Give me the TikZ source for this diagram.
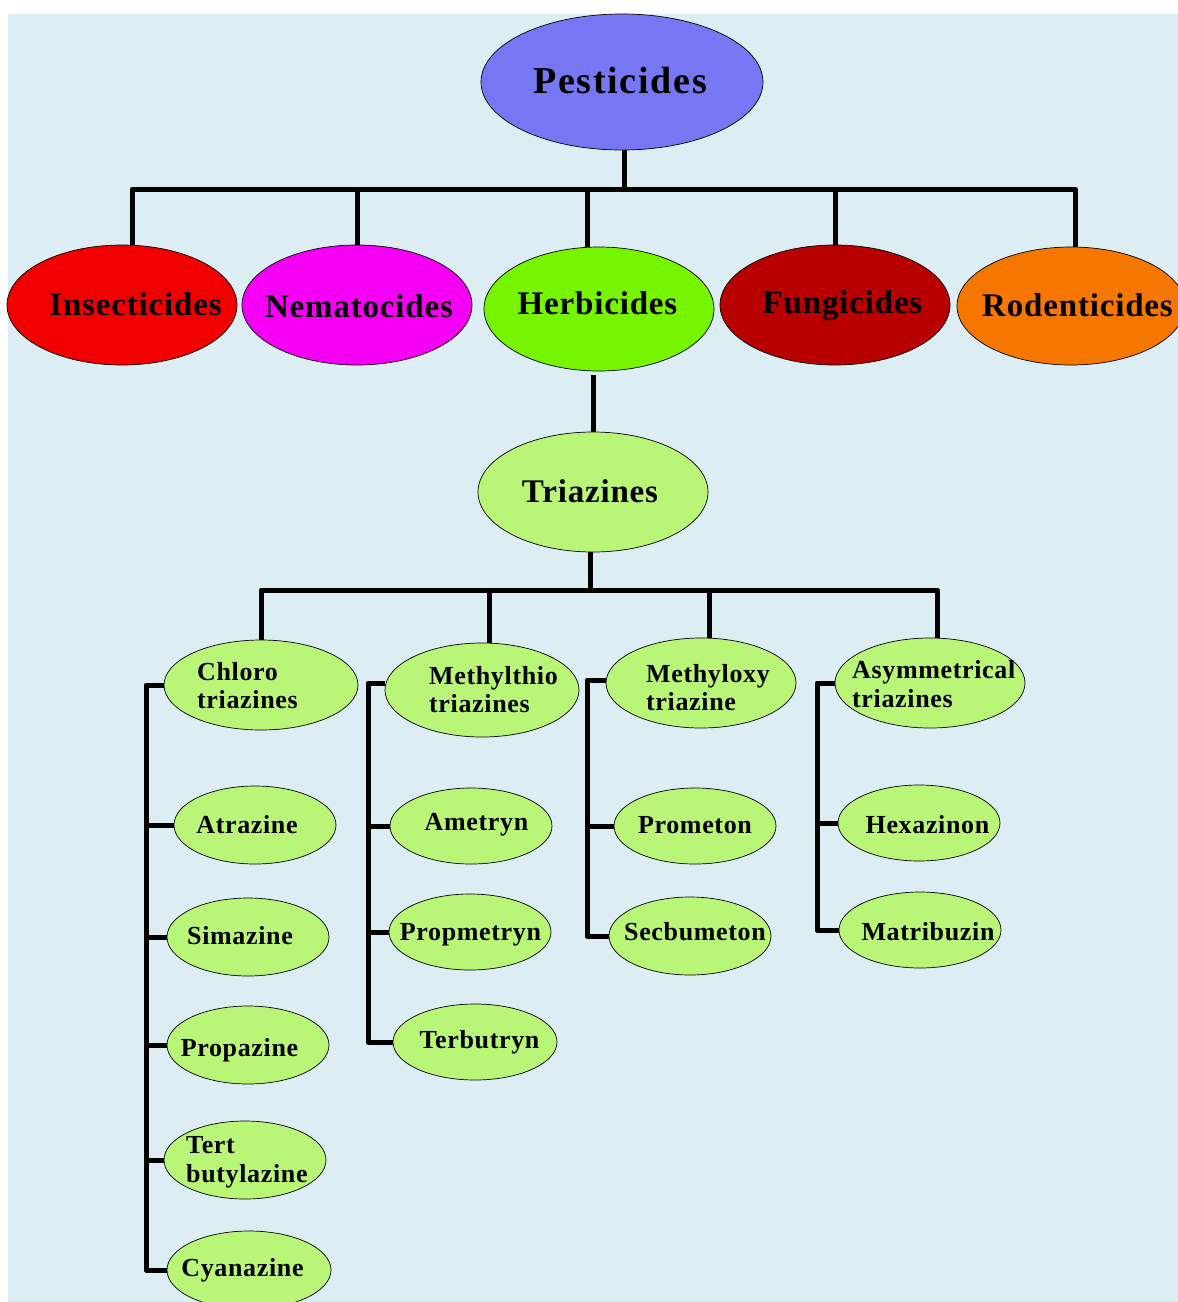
\documentclass[tikz,border=0pt]{standalone}
\usepackage{fontspec}
\setmainfont{Liberation Serif}
\newfontfamily\wideA{Liberation Serif}[LetterSpace=4.5]
\newfontfamily\wideB{Liberation Serif}[LetterSpace=2.5]
\usetikzlibrary{shapes.geometric}
\definecolor{bgc}{HTML}{DCEEF4}
\definecolor{pestc}{HTML}{7777F4}
\definecolor{insc}{HTML}{F20000}
\definecolor{nemc}{HTML}{F500F5}
\definecolor{herbc}{HTML}{77F500}
\definecolor{func}{HTML}{B80000}
\definecolor{rodc}{HTML}{F57700}
\definecolor{lgc}{HTML}{B9F577}
\begin{document}
\begin{tikzpicture}[x=1pt,y=-1pt,
  oval/.style={ellipse,draw=black,line width=0.7pt,inner sep=0pt},
  leafoval/.style={oval,fill=lgc},
  conn/.style={line width=5pt,line cap=butt,line join=round},
  big/.style={font=\wideA\bfseries\fontsize{38}{40}\selectfont,inner sep=0pt,anchor=base},
  cat/.style={font=\wideB\bfseries\fontsize{33}{36}\selectfont,inner sep=0pt,anchor=base},
  leaf/.style={font=\wideB\bfseries\fontsize{26}{29}\selectfont,inner sep=0pt,anchor=base},
  leafw/.style={leaf,anchor=base west}]
\useasboundingbox (0,0) rectangle (1178,1302);
\fill[bgc] (8,14) rectangle (1178,1302);

% ellipses
\node[oval,fill=pestc,minimum width=282pt,minimum height=136pt] (pest) at (622,82) {};
\node[oval,fill=insc,minimum width=230pt,minimum height=120pt] (ins) at (122,305) {};
\node[oval,fill=nemc,minimum width=230pt,minimum height=120pt] (nem) at (357,305) {};
\node[oval,fill=herbc,minimum width=230pt,minimum height=124pt] (herb) at (599,309) {};
\node[oval,fill=func,minimum width=230pt,minimum height=120pt] (fun) at (835,305) {};
\node[oval,fill=rodc,minimum width=228pt,minimum height=118pt] (rod) at (1071,306) {};
\node[leafoval,minimum width=230pt,minimum height=120pt] (tri) at (593,492) {};
\node[leafoval,minimum width=194pt,minimum height=90pt] (chl) at (261,685) {};
\node[leafoval,minimum width=194pt,minimum height=94pt] (mth) at (482,690) {};
\node[leafoval,minimum width=190pt,minimum height=90pt] (mox) at (701,683) {};
\node[leafoval,minimum width=190pt,minimum height=90pt] (asy) at (930,683) {};
\node[leafoval,minimum width=162pt,minimum height=78pt] (atr) at (255,825) {};
\node[leafoval,minimum width=162pt,minimum height=78pt] (sim) at (248,937) {};
\node[leafoval,minimum width=162pt,minimum height=78pt] (prz) at (248,1045) {};
\node[leafoval,minimum width=162pt,minimum height=78pt] (tba) at (245,1160) {};
\node[leafoval,minimum width=164pt,minimum height=78pt] (cya) at (249,1270) {};
\node[leafoval,minimum width=162pt,minimum height=76pt] (ame) at (471,826) {};
\node[leafoval,minimum width=162pt,minimum height=76pt] (prm) at (470,932) {};
\node[leafoval,minimum width=164pt,minimum height=76pt] (teb) at (475,1042) {};
\node[leafoval,minimum width=162pt,minimum height=76pt] (prn) at (695,826) {};
\node[leafoval,minimum width=162pt,minimum height=78pt] (sec) at (690,936) {};
\node[leafoval,minimum width=162pt,minimum height=76pt] (hex) at (919,823) {};
\node[leafoval,minimum width=162pt,minimum height=76pt] (mat) at (920,930) {};

% top tree
\coordinate (barA) at (132,189);
\coordinate (insT) at ([xshift=10pt]ins.north);
\coordinate (herbT) at ([xshift=-12pt]herb.north);
\coordinate (rodT) at ([xshift=4pt]rod.north);
\coordinate (pestB) at ([xshift=2pt]pest.south);
\coordinate (herbB) at ([yshift=-4pt]herb.south);
\draw[conn] (insT) -- (insT |- barA) -- (rodT |- barA) -- (rodT);
\draw[conn] (pestB) -- (pestB |- barA);
\draw[conn] (nem.north |- barA) -- (nem.north);
\draw[conn] (herbT |- barA) -- (herbT);
\draw[conn] (fun.north |- barA) -- (fun.north);
\draw[conn] (tri.north |- herbB) -- (tri.north);

% triazine tree
\coordinate (barB) at (260,590);
\coordinate (mthT) at ([xshift=7pt]mth.north);
\coordinate (moxT) at ([xshift=8pt]mox.north);
\coordinate (asyT) at ([xshift=7pt]asy.north);
\coordinate (triB) at ([xshift=-3pt]tri.south);
\draw[conn] (chl.north) -- (chl.north |- barB) -- (asyT |- barB) -- (asyT);
\draw[conn] (triB) -- (triB |- barB);
\draw[conn] (mthT |- barB) -- (mthT);
\draw[conn] (moxT |- barB) -- (moxT);

% brackets
\coordinate (cb) at (146,0);
\coordinate (mb) at (368,0);
\coordinate (ob) at (587,0);
\coordinate (ab) at (817,0);
\coordinate (mthW) at ([yshift=7pt]mth.west);
\coordinate (moxW) at ([yshift=3pt]mox.west);
\draw[conn] (chl.west) -- (chl.west -| cb) -- (cya.west -| cb) -- (cya.west);
\foreach \n in {atr,sim,prz,tba} \draw[conn] (\n.west -| cb) -- (\n.west);
\draw[conn] (mthW) -- (mthW -| mb) -- (teb.west -| mb) -- (teb.west);
\foreach \n in {ame,prm} \draw[conn] (\n.west -| mb) -- (\n.west);
\draw[conn] (moxW) -- (moxW -| ob) -- (sec.west -| ob) -- (sec.west);
\draw[conn] (prn.west -| ob) -- (prn.west);
\draw[conn] (asy.west) -- (asy.west -| ab) -- (mat.west -| ab) -- (mat.west);
\draw[conn] (hex.west -| ab) -- (hex.west);

% labels
\node[big] (tpest) at (620,93) {Pesticides};
\node[cat] (tins) at (135.5,315) {Insecticides};
\node[cat] (tnem) at (359,317) {Nematocides};
\node[cat] (therb) at (597.5,314) {Herbicides};
\node[cat] (tfun) at (842.5,313) {Fungicides};
\node[cat] (trod) at (1077.5,316) {Rodenticides};
\node[cat] (ttri) at (590,502) {Triazines};
\node[leafw] (tchl1) at (197,680) {Chloro};
\node[leafw] (tchl2) at (197,708) {triazines};
\node[leafw] (tmth1) at (429,684) {Methylthio};
\node[leafw] (tmth2) at (429,712) {triazines};
\node[leafw] (tmox1) at (646,682) {Methyloxy};
\node[leafw] (tmox2) at (646,710) {triazine};
\node[leafw] (tasy1) at (852,678) {Asymmetrical};
\node[leafw] (tasy2) at (852,707) {triazines};
\node[leaf] (tatr) at (247,833) {Atrazine};
\node[leaf] (tsim) at (240,944) {Simazine};
\node[leaf] (tprz) at (239.5,1056) {Propazine};
\node[leafw] (ttba1) at (186,1153) {Tert};
\node[leafw] (ttba2) at (186,1182) {butylazine};
\node[leaf] (tcya) at (242.5,1276) {Cyanazine};
\node[leaf] (tame) at (476.5,830) {Ametryn};
\node[leaf] (tprm) at (470.5,940) {Propmetryn};
\node[leaf] (tteb) at (479.5,1048) {Terbutryn};
\node[leaf] (tprn) at (695,833) {Prometon};
\node[leaf] (tsec) at (695,940) {Secbumeton};
\node[leaf] (thex) at (927.5,833) {Hexazinon};
\node[leaf] (tmat) at (928,940) {Matribuzin};
\end{tikzpicture}
\end{document}
